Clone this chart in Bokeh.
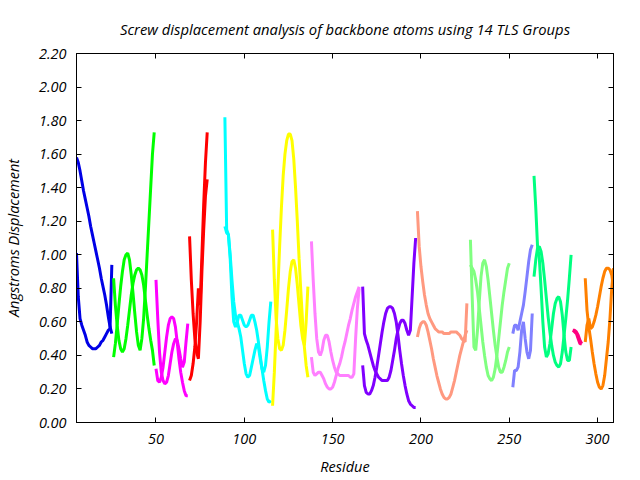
from bokeh.plotting import figure
from bokeh.models import FixedTicker, PrintfTickFormatter, LinearAxis
from bokeh.embed import file_html
from bokeh.resources import INLINE

title_text = "Screw displacement analysis of backbone atoms using 14 TLS Groups"
x_label = "Residue"
y_label = "Angstroms Displacement"
x_ticks = [50, 100, 150, 200, 250, 300]
y_ticks = [0.0, 0.2, 0.4, 0.6, 0.8, 1.0, 1.2, 1.4, 1.6, 1.8, 2.0, 2.2]

group_colors = ["#0000e6", "#00ff00", "#ff00ff", "#ff0000", "#00ffff", "#ffff00", "#ff80ff",
                "#8000ff", "#ff9980", "#80ff80", "#8080ff", "#00ff80", "#ff0080", "#ff8000"]
group_start = [5, 26, 50, 69, 89, 116, 138, 167, 198, 228, 252, 264, 286, 293]

g01_a = [1.58, 1.55, 1.50, 1.44, 1.38, 1.33, 1.28, 1.23, 1.17, 1.12, 1.07, 1.02, 0.97, 0.92, 0.86, 0.81, 0.76, 0.70, 0.63, 0.57, 0.53]
g01_b = [1.01, 0.75, 0.62, 0.58, 0.55, 0.52, 0.48, 0.46, 0.45, 0.44, 0.44, 0.44, 0.45, 0.46, 0.48, 0.49, 0.51, 0.53, 0.55, 0.56, 0.94]
g02_a = [0.39, 0.47, 0.58, 0.70, 0.81, 0.90, 0.97, 1.00, 1.01, 0.97, 0.88, 0.77, 0.65, 0.54, 0.46, 0.43, 0.50, 0.62, 0.80, 1.00, 1.20, 1.40, 1.60, 1.73]
g02_b = [0.86, 0.70, 0.58, 0.49, 0.44, 0.42, 0.44, 0.50, 0.58, 0.67, 0.76, 0.83, 0.88, 0.91, 0.92, 0.91, 0.88, 0.82, 0.73, 0.64, 0.56, 0.49, 0.43, 0.34]
g03_a = [0.85, 0.62, 0.42, 0.30, 0.25, 0.23, 0.24, 0.28, 0.35, 0.42, 0.47, 0.50, 0.49, 0.44, 0.38, 0.33, 0.36, 0.48, 0.59]
g03_b = [0.32, 0.25, 0.24, 0.27, 0.33, 0.42, 0.51, 0.58, 0.62, 0.63, 0.62, 0.57, 0.48, 0.38, 0.30, 0.24, 0.19, 0.16, 0.16]
g04_a = [1.11, 0.85, 0.65, 0.50, 0.42, 0.38, 0.60, 0.90, 1.15, 1.35, 1.45]
g04_b = [0.25, 0.28, 0.35, 0.45, 0.60, 0.80, 0.70, 1.00, 1.30, 1.55, 1.73]
g05_a = [1.82, 1.15, 1.12, 0.98, 0.75, 0.60, 0.57, 0.60, 0.64, 0.64, 0.61, 0.58, 0.57, 0.58, 0.61, 0.64, 0.64, 0.60, 0.55, 0.48, 0.40, 0.32, 0.25, 0.19, 0.14, 0.12, 0.13]
g05_b = [1.17, 1.13, 1.12, 1.00, 0.85, 0.72, 0.64, 0.60, 0.56, 0.51, 0.43, 0.35, 0.29, 0.27, 0.28, 0.33, 0.38, 0.43, 0.47, 0.45, 0.38, 0.32, 0.30, 0.34, 0.45, 0.60, 0.72]
g06_a = [1.15, 0.85, 0.62, 0.50, 0.44, 0.43, 0.46, 0.55, 0.67, 0.80, 0.90, 0.96, 0.97, 0.92, 0.82, 0.70, 0.58, 0.50, 0.46, 0.60, 0.81]
g06_b = [0.10, 0.30, 0.55, 0.80, 1.05, 1.28, 1.47, 1.60, 1.68, 1.72, 1.72, 1.68, 1.57, 1.40, 1.20, 0.98, 0.78, 0.60, 0.45, 0.34, 0.27]
g07_a = [1.08, 0.85, 0.65, 0.50, 0.42, 0.40, 0.43, 0.49, 0.52, 0.52, 0.48, 0.42, 0.37, 0.33, 0.30, 0.29, 0.28, 0.28, 0.28, 0.28, 0.28, 0.28, 0.27, 0.27, 0.29, 0.50, 0.68, 0.80]
g07_b = [0.39, 0.30, 0.28, 0.29, 0.30, 0.30, 0.28, 0.26, 0.23, 0.21, 0.20, 0.20, 0.21, 0.24, 0.28, 0.32, 0.35, 0.39, 0.44, 0.48, 0.53, 0.58, 0.62, 0.67, 0.71, 0.75, 0.78, 0.81]
g08_a = [0.81, 0.53, 0.49, 0.46, 0.42, 0.38, 0.34, 0.31, 0.29, 0.27, 0.26, 0.25, 0.25, 0.25, 0.25, 0.27, 0.31, 0.37, 0.43, 0.50, 0.55, 0.59, 0.61, 0.61, 0.59, 0.55, 0.52, 0.55, 0.75, 0.95, 1.10]
g08_b = [0.34, 0.22, 0.18, 0.17, 0.17, 0.19, 0.22, 0.27, 0.33, 0.40, 0.47, 0.54, 0.60, 0.65, 0.68, 0.69, 0.69, 0.68, 0.65, 0.60, 0.52, 0.43, 0.35, 0.28, 0.22, 0.17, 0.13, 0.11, 0.10, 0.09, 0.09]
g09_a = [1.26, 1.05, 0.93, 0.84, 0.76, 0.70, 0.65, 0.62, 0.60, 0.58, 0.56, 0.55, 0.54, 0.54, 0.54, 0.53, 0.53, 0.53, 0.53, 0.54, 0.54, 0.54, 0.54, 0.53, 0.52, 0.50, 0.49, 0.48, 0.71]
g09_b = [0.51, 0.56, 0.59, 0.60, 0.60, 0.58, 0.54, 0.49, 0.44, 0.38, 0.33, 0.28, 0.24, 0.20, 0.17, 0.15, 0.14, 0.14, 0.15, 0.17, 0.21, 0.25, 0.30, 0.35, 0.40, 0.44, 0.48, 0.52, 0.55]
g10_a = [1.09, 0.75, 0.45, 0.43, 0.55, 0.72, 0.87, 0.95, 0.97, 0.93, 0.85, 0.75, 0.65, 0.55, 0.46, 0.39, 0.33, 0.30, 0.30, 0.33, 0.37, 0.42, 0.45]
g10_b = [0.94, 0.92, 0.90, 0.85, 0.78, 0.68, 0.58, 0.48, 0.40, 0.33, 0.28, 0.26, 0.25, 0.27, 0.32, 0.40, 0.50, 0.60, 0.70, 0.78, 0.85, 0.92, 0.95]
g11_a = [0.53, 0.58, 0.58, 0.55, 0.60, 0.65, 0.70, 0.78, 0.87, 0.96, 1.03, 1.06]
g11_b = [0.21, 0.31, 0.31, 0.33, 0.42, 0.55, 0.60, 0.50, 0.42, 0.38, 0.43, 0.65]
g12_a = [1.47, 1.28, 1.05, 0.98, 0.80, 0.60, 0.45, 0.39, 0.41, 0.47, 0.56, 0.65, 0.71, 0.74, 0.75, 0.72, 0.64, 0.52, 0.42, 0.37, 0.37, 0.45]
g12_b = [0.87, 0.97, 1.04, 1.05, 1.02, 0.95, 0.85, 0.74, 0.63, 0.54, 0.46, 0.40, 0.36, 0.34, 0.33, 0.35, 0.42, 0.52, 0.62, 0.73, 0.86, 1.00]
g13_a = [0.55, 0.55, 0.54, 0.52, 0.49, 0.47]
g13_b = [0.55, 0.54, 0.53, 0.50, 0.47, 0.47]
g14_a = [0.86, 0.67, 0.57, 0.50, 0.42, 0.35, 0.29, 0.24, 0.21, 0.20, 0.22, 0.28, 0.38, 0.48, 0.62, 0.80, 0.92]
g14_b = [0.48, 0.58, 0.62, 0.56, 0.57, 0.60, 0.64, 0.69, 0.75, 0.81, 0.86, 0.90, 0.92, 0.92, 0.91, 0.88, 0.80]

series_a = [g01_a, g02_a, g03_a, g04_a, g05_a, g06_a, g07_a, g08_a, g09_a, g10_a, g11_a, g12_a, g13_a, g14_a]
series_b = [g01_b, g02_b, g03_b, g04_b, g05_b, g06_b, g07_b, g08_b, g09_b, g10_b, g11_b, g12_b, g13_b, g14_b]

FONT = "Open Sans"
FS = "14.5px"

p = figure(width=640, height=480, x_range=(5, 309), y_range=(0, 2.2),
           output_backend="svg", toolbar_location=None,
           min_border_left=76, min_border_right=27, min_border_top=53, min_border_bottom=58)

p.title.text = title_text
p.title.align = "center"
p.title.text_font = FONT
p.title.text_font_style = "italic"
p.title.text_font_size = "14.8px"
p.title.text_color = "black"
p.title.standoff = 29

p.xgrid.visible = False
p.ygrid.visible = False
p.outline_line_color = "black"
p.outline_line_width = 1
p.background_fill_color = "white"
p.border_fill_color = "white"

for ax in p.xaxis + p.yaxis:
    ax.major_tick_in = 5
    ax.major_tick_out = 0
    ax.minor_tick_line_color = None
    ax.axis_line_color = "black"
    ax.major_tick_line_color = "black"
    ax.major_label_text_font = FONT
    ax.major_label_text_font_style = "italic"
    ax.major_label_text_font_size = FS
    ax.major_label_text_color = "black"
    ax.axis_label_text_font = FONT
    ax.axis_label_text_font_style = "italic"
    ax.axis_label_text_font_size = FS
    ax.axis_label_text_color = "black"

p.xaxis.ticker = FixedTicker(ticks=x_ticks)
p.yaxis.ticker = FixedTicker(ticks=y_ticks)
p.yaxis.formatter = PrintfTickFormatter(format="%.2f")
p.xaxis.axis_label = x_label
p.yaxis.axis_label = y_label
p.xaxis.major_label_standoff = 11
p.yaxis.major_label_standoff = 10
p.xaxis.axis_label_standoff = 10
p.yaxis.axis_label_standoff = 13

top_axis = LinearAxis(ticker=FixedTicker(ticks=x_ticks), major_tick_in=5, major_tick_out=0,
                      minor_tick_line_color=None, major_label_text_font_size="1px",
                      major_label_text_color=None, major_label_standoff=0,
                      axis_line_color="black")
right_axis = LinearAxis(ticker=FixedTicker(ticks=y_ticks), major_tick_in=5, major_tick_out=0,
                        minor_tick_line_color=None, major_label_text_font_size="1px",
                        major_label_text_color=None, major_label_standoff=0,
                        axis_line_color="black")
p.add_layout(top_axis, "above")
p.add_layout(right_axis, "right")

for start, color, ya, yb in zip(group_start, group_colors, series_a, series_b):
    xs = list(range(start, start + len(ya)))
    p.line(xs, ya, line_color=color, line_width=3)
    p.line(xs, yb, line_color=color, line_width=3)

open("out.html", "w").write(file_html(p, INLINE))
